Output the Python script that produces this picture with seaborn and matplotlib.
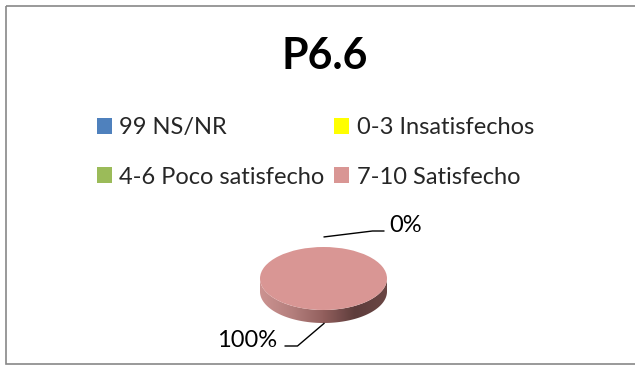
import numpy as np
import seaborn as sns
import matplotlib.pyplot as plt
from matplotlib.patches import Patch, Polygon, Rectangle
from matplotlib.colors import LinearSegmentedColormap

# data
title = 'P6.6'
categories = ['99 NS/NR', '0-3 Insatisfechos', '4-6 Poco satisfecho',
              '7-10 Satisfecho']
values = [0, 0, 0, 100]
colors = ['#4f81bd', '#ffff00', '#9bbb59', '#d99694']

sns.set_theme(style='white')
plt.rcParams['font.family'] = ['Lato', 'DejaVu Sans']

W, H = 635, 365
fig = plt.figure(figsize=(W / 100, H / 100), dpi=100)

# pie axes: top ellipse plus the 3d side below it
depth = 0.413
px0, px1, py0, py1 = 260, 387, 247, 323
ax = fig.add_axes([px0 / W, 1 - py1 / H, (px1 - px0) / W, (py1 - py0) / H])
wedges, _ = ax.pie(values, colors=colors, startangle=90, counterclock=False,
                   radius=1, center=(0, 0), wedgeprops=dict(linewidth=0))
for w in wedges:
    w.set_zorder(3)
ax.set_aspect('auto')
ax.axis('off')

# side of the pie, shaded like the biggest slice
t = np.linspace(np.pi, 2 * np.pi, 200)
side = np.concatenate([np.c_[np.cos(t), np.sin(t)],
                       np.c_[np.cos(t), np.sin(t) - depth][::-1]])
side_patch = Polygon(side, closed=True, facecolor='none', edgecolor='none')
ax.add_patch(side_patch)
side_cmap = LinearSegmentedColormap.from_list(
    'side', ['#cc9391', '#b47f7d', '#925f5d', '#5e3d3c', '#6a4644'])
img = ax.imshow(np.linspace(0, 1, 256)[None, :], cmap=side_cmap,
                extent=[-1, 1, -1 - depth, 0], aspect='auto', zorder=2)
img.set_clip_path(side_patch)
ax.set_xlim(-1, 1)
ax.set_ylim(-1 - depth, 1)

# overlay in pixel coords for border and leader lines
ov = fig.add_axes([0, 0, 1, 1])
ov.set_xlim(0, W)
ov.set_ylim(H, 0)
ov.axis('off')
ov.patch.set_visible(False)
ov.add_patch(Rectangle((5.5, 5.5), W + 5, H - 6.5, fill=False,
                       edgecolor='#888888', lw=1.2))

fig.canvas.draw()
total = sum(values)
done = set()
for w, v in zip(wedges, values):
    mid = np.deg2rad((w.theta1 + w.theta2) / 2)
    key = round(float(mid) % (2 * np.pi), 3)
    if key in done:
        continue
    done.add(key)
    x, y = np.cos(mid), np.sin(mid)
    if y < 0:
        y = y - depth
    dx, dy = ax.transData.transform((x, y))
    ax_x, ax_y = dx, H - dy
    label = f'{v / total * 100:.0f}%'
    if np.sin(mid) >= 0:
        pts = [(0, -10), (49, -16), (61, -16)]
        tx, ty, ha = 66, -15, 'left'
    else:
        pts = [(1, 0), (-26, 23), (-39, 23)]
        tx, ty, ha = -46, 24, 'right'
    ov.plot([ax_x + p[0] for p in pts], [ax_y + p[1] for p in pts],
            color='black', lw=1.0, solid_capstyle='butt')
    ov.text(ax_x + tx, ax_y + ty, label, ha=ha, va='baseline', fontsize=17,
            color='black')

fig.text(325 / W, 1 - 69 / H, title, ha='center', va='baseline',
         fontsize=31, fontweight='bold', color='black')

# legend: two columns, row-wise order like the original
order = [0, 2, 1, 3]
handles = [Patch(facecolor=colors[i], edgecolor='none') for i in order]
labels = [categories[i] for i in order]
fig.legend(handles, labels, ncol=2, loc='upper left',
           bbox_to_anchor=(97 / W, 1 - 117 / H), frameon=False,
           fontsize=17, handlelength=0.65, handleheight=0.65,
           handletextpad=0.3, columnspacing=0.4, labelspacing=1.21,
           borderpad=0, borderaxespad=0)

fig.savefig('out.png', dpi=100)
